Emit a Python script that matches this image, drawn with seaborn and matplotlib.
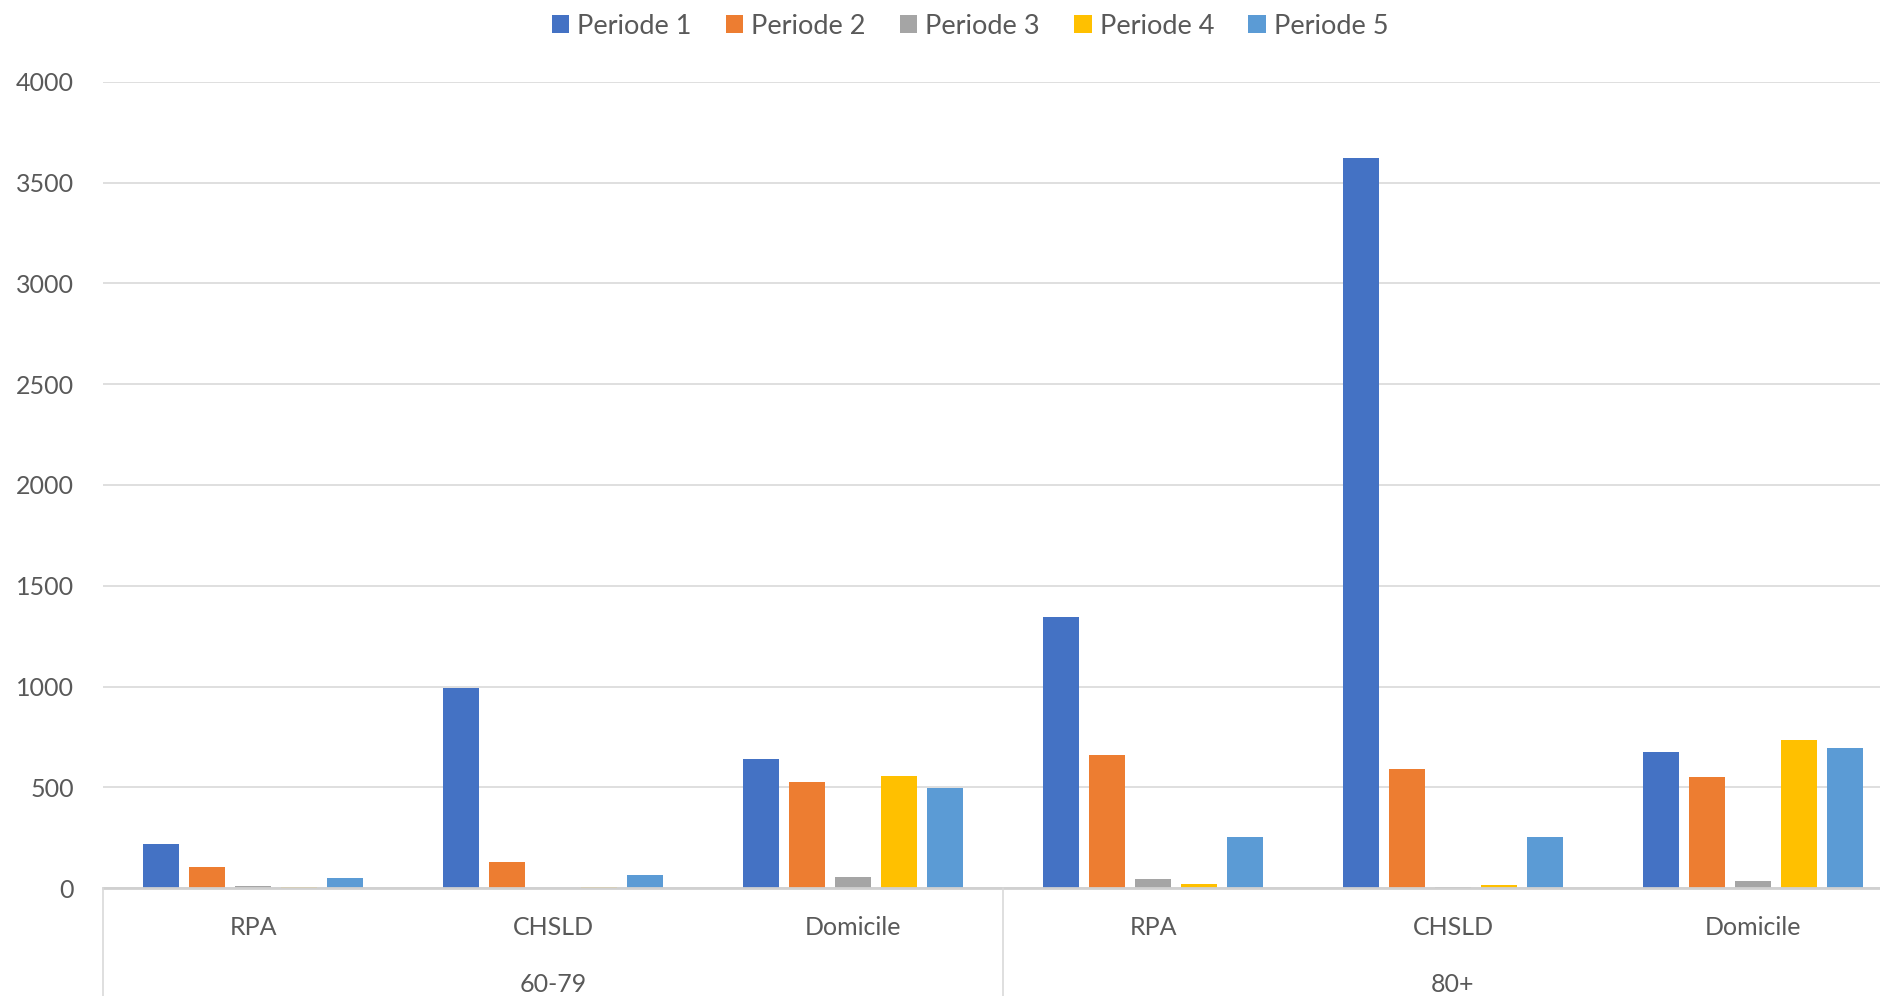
import matplotlib
matplotlib.use("Agg")
import matplotlib.pyplot as plt
from matplotlib.lines import Line2D
from matplotlib.patches import Patch
from matplotlib.transforms import blended_transform_factory
import seaborn as sns
import pandas as pd

# Data
age_groups = ["60-79", "60-79", "60-79", "80+", "80+", "80+"]
settings = ["RPA", "CHSLD", "Domicile", "RPA", "CHSLD", "Domicile"]
periods = ["Periode 1", "Periode 2", "Periode 3", "Periode 4", "Periode 5"]
periode_1 = [220, 995, 642, 1343, 3620, 678]
periode_2 = [108, 129, 529, 660, 594, 553]
periode_3 = [10, 3, 57, 48, 6, 38]
periode_4 = [5, 5, 559, 20, 15, 737]
periode_5 = [53, 66, 499, 256, 256, 695]
y_ticks = [0, 500, 1000, 1500, 2000, 2500, 3000, 3500, 4000]

colors = ["#4472C4", "#ED7D31", "#A5A5A5", "#FFC000", "#5B9BD5"]
text_color = "#595959"
grid_color = "#D9D9D9"

series = [periode_1, periode_2, periode_3, periode_4, periode_5]
keys = [f"{a} {s}" for a, s in zip(age_groups, settings)]
rows = []
for name, vals in zip(periods, series):
    for k, v in zip(keys, vals):
        rows.append({"key": k, "periode": name, "value": v})
df = pd.DataFrame(rows)

sns.set_theme(style="white")
plt.rcParams["font.family"] = ["Lato", "DejaVu Sans"]

fig = plt.figure(figsize=(18.8, 9.96), dpi=100)
ax_left, ax_bottom = 103 / 1880, (996 - 888.3) / 996
ax_width, ax_height = 1800 / 1880, 806.6 / 996
ax = fig.add_axes([ax_left, ax_bottom, ax_width, ax_height])

sns.barplot(data=df, x="key", y="value", hue="periode", order=keys,
            hue_order=periods, palette=colors, width=0.767, gap=0.22,
            saturation=1, ax=ax, legend=False, linewidth=0)

ax.set_xlim(-0.5, len(keys) - 0.5)
ax.set_ylim(0, 4000)
ax.set_yticks(y_ticks)
ax.set_yticklabels([str(t) for t in y_ticks])
ax.yaxis.grid(True, color=grid_color, linewidth=1.2)
ax.set_axisbelow(True)
ax.tick_params(axis="y", length=0, pad=21, labelsize=18, labelcolor=text_color)
ax.set_xticks([])
ax.set_xlabel("")
ax.set_ylabel("")
for side in ["left", "right", "top"]:
    ax.spines[side].set_visible(False)
ax.spines["bottom"].set_color("#D0D0D0")
ax.spines["bottom"].set_linewidth(2)

# Two-level category axis below the plot
trans = blended_transform_factory(ax.transData, fig.transFigure)
for i, s in enumerate(settings):
    ax.text(i, 1 - 927 / 996, s, transform=trans, ha="center", va="center",
            fontsize=18, color=text_color, clip_on=False)
group_names = ["60-79", "80+"]
for g, name in enumerate(group_names):
    ax.text(g * 3 + 1, 1 - 984 / 996, name, transform=trans, ha="center",
            va="center", fontsize=18, color=text_color, clip_on=False)
for xv in [-0.5, 2.5, 5.5]:
    fig.add_artist(Line2D([xv, xv], [0, ax_bottom], transform=trans,
                          color=grid_color, linewidth=1.2))

handles = [Patch(facecolor=c, edgecolor="none") for c in colors]
fig.legend(handles, periods, loc="center", bbox_to_anchor=(970 / 1880, 1 - 26 / 996),
           ncol=5, frameon=False, fontsize=19.5, labelcolor=text_color,
           handlelength=0.65, handleheight=0.65, handletextpad=0.3, columnspacing=1.25)

fig.savefig("out.png", dpi=100)
